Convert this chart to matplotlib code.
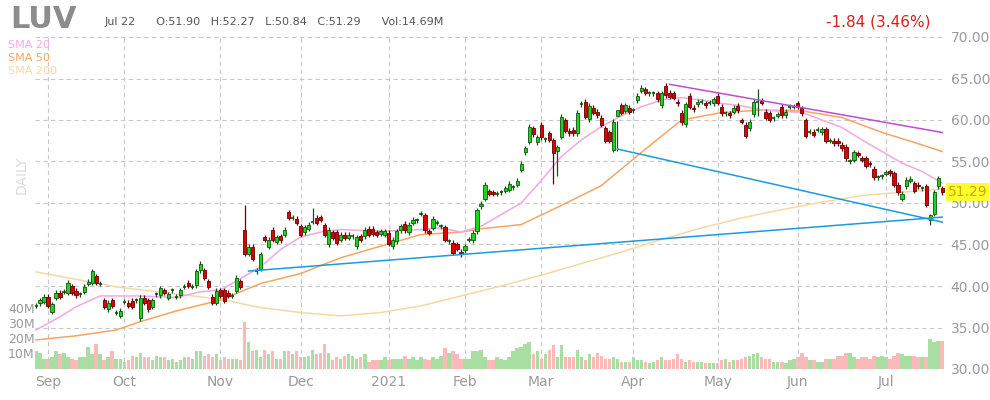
import matplotlib
matplotlib.use("Agg")
import matplotlib.pyplot as plt
import numpy as np

# candle bodies (open, close), Aug 27 2020 .. Jul 22 2021
opens = [
    37.6, 37.9, 38.1, 38.7, 36.9, 38.6, 39.2, 39.3, 39.2, 40.0, 39.4, 39.0, 39.3, 40.3, 40.4, 41.2,
    40.3, 38.3, 37.2, 38.3, 36.8, 36.4, 38.1, 38.0, 38.2, 38.3, 36.1, 38.6, 38.3, 37.5, 39.0,
    38.9, 39.5, 38.6, 39.5, 38.7, 38.9, 39.9, 40.4, 39.9, 40.1, 41.9, 41.9, 40.6, 38.7, 38.0,
    39.5, 39.5, 39.2, 38.8, 39.4, 40.6, 46.8, 43.9, 44.7, 41.8, 42.1, 45.9, 44.7, 46.8, 45.3,
    46.0, 46.2, 48.9, 48.2, 48.1, 47.2, 46.5, 46.9, 47.7, 48.2, 48.3, 47.3, 45.0, 46.5, 46.5,
    45.6, 46.2, 45.8, 46.0, 44.8, 46.0, 46.0, 46.9, 46.9, 46.5, 46.3,
    46.2, 46.4, 44.8, 45.4, 46.7, 47.5, 46.5, 47.6, 47.9, 48.7, 48.5, 46.6, 47.0, 47.6, 47.2,
    47.1, 45.4, 45.2, 45.0, 44.1, 44.3, 45.6, 45.5, 46.6, 49.6, 50.5, 51.4, 51.3, 51.1, 51.3,
    51.5, 51.6, 51.9, 52.2, 54.0, 56.1, 57.4, 59.0, 57.3, 59.4, 57.7, 58.4, 57.6, 56.3, 58.0,
    60.0, 58.7, 58.8, 58.4, 61.9, 62.2, 60.1, 61.5, 61.0, 60.3, 59.0, 58.5, 56.4, 60.5, 61.8,
    61.1, 61.5, 61.2, 62.4, 63.5, 63.7, 63.2, 63.2, 63.2, 61.8, 64.1, 63.3, 63.2, 62.2, 60.9,
    59.5, 62.9, 61.5, 61.9, 62.2,
    62.0, 62.1, 62.0, 62.9, 61.6, 60.8, 60.8, 61.0, 61.7, 60.0, 59.4, 59.0, 60.7, 62.2, 62.3,
    61.0, 60.8, 60.2, 60.5, 61.6, 60.6, 61.6, 61.6, 62.0, 61.4, 60.0, 58.6, 58.6, 58.8, 58.5,
    58.9, 57.5, 57.5, 57.5, 57.0, 56.8, 55.0, 55.2, 56.0, 55.4, 55.4, 54.7, 54.1, 53.1, 53.2,
    53.5, 53.8, 53.6, 52.2, 50.5, 52.0, 52.7, 52.4, 52.2, 51.8, 52.0, 48.0, 48.7, 52.0, 51.8,
]
closes = [
    37.6, 38.3, 38.7, 37.6, 37.8, 39.2, 38.7, 39.3, 40.4, 39.2, 38.9, 39.0, 39.9, 40.5, 41.8, 40.4,
    40.3, 37.5, 38.0, 37.6, 36.8, 37.0, 38.1, 37.6, 37.5, 38.3, 38.6, 38.0, 37.2, 38.3, 39.0,
    39.7, 39.2, 39.0, 39.5, 38.7, 39.5, 39.9, 40.0, 39.9, 41.8, 42.7, 41.0, 39.9, 38.0, 39.4,
    38.8, 38.2, 38.8, 38.8, 41.0, 39.9, 43.9, 44.7, 43.3, 41.8, 43.8, 45.6, 45.6, 45.6, 45.9,
    45.5, 46.8, 48.2, 48.2, 47.6, 46.2, 47.1, 47.4, 47.7, 47.6, 48.0, 46.2, 46.8, 45.8, 45.2,
    46.2, 45.8, 46.2, 46.0, 45.9, 45.6, 46.8, 46.2, 46.3, 46.2, 46.6,
    46.6, 45.1, 45.6, 46.6, 47.2, 46.7, 47.4, 48.0, 47.9, 48.7, 46.7, 46.4, 48.1, 47.6, 47.2,
    45.6, 45.4, 44.0, 44.5, 43.8, 44.8, 45.6, 46.4, 49.1, 49.9, 52.2, 51.1, 51.1, 51.1, 51.3,
    51.8, 52.3, 51.9, 52.7, 54.7, 56.6, 59.2, 58.3, 57.9, 57.9, 57.7, 57.6, 56.0, 56.8, 60.4,
    58.7, 58.4, 58.4, 60.9, 62.0, 60.4, 61.7, 60.9, 60.6, 59.4, 57.5, 57.5, 59.8, 61.2, 60.9,
    61.8, 61.0, 61.2, 62.9, 63.9, 63.3, 63.2, 63.2, 62.5, 63.2, 63.0, 62.8, 62.7, 62.0, 59.7,
    61.9, 61.6, 61.3, 62.2, 62.2,
    61.8, 62.1, 62.5, 62.1, 60.8, 60.8, 60.6, 61.5, 61.2, 59.8, 58.1, 59.8, 62.2, 62.2, 62.1,
    60.3, 60.0, 60.2, 60.7, 60.6, 61.0, 61.6, 61.6, 61.6, 60.8, 58.1, 58.6, 58.2, 58.8, 58.9,
    57.5, 57.5, 57.2, 57.2, 56.6, 55.4, 55.0, 56.1, 55.8, 55.2, 54.5, 54.6, 53.1, 53.1, 53.2,
    53.7, 53.6, 52.2, 51.3, 51.1, 52.8, 52.9, 51.5, 52.0, 51.8, 49.8, 48.5, 51.3, 53.0, 51.29,
]
# long wicks that stand out (candle index: (high, low))
wicks = {52: (49.7, 43.6), 55: (42.2, 41.5), 69: (49.4, 47.5), 129: (57.8, 52.3),
         130: (57.0, 53.2), 145: (59.9, 56.3), 180: (63.7, 60.5), 223: (48.7, 47.3)}
volumes = [
    12, 11, 7, 7, 8, 12, 10, 11, 8, 7, 6, 8, 8, 15, 10, 17, 10, 6, 8, 12, 7, 7, 5, 6, 9, 8, 11, 8, 8, 6, 9,
    8, 8, 6, 7, 5, 6, 8, 8, 7, 12, 12, 9, 10, 8, 10, 6, 8, 7, 7, 7, 6,
    32, 18, 12, 13, 8, 13, 10, 12, 7, 7, 12, 12, 10, 12, 8, 8, 9, 13, 10, 11, 17, 11, 6, 8, 7, 9, 10,
    9, 7, 8, 10, 5, 6, 6, 6, 8, 6, 7, 7, 7, 9, 7, 8, 6, 8, 7, 6, 8, 7, 9, 14, 11, 12, 10, 7, 7, 7,
    12, 12, 13, 8, 6, 6, 8, 7, 6, 8, 12, 14, 15, 17, 18, 10, 12, 7, 10, 13, 16, 8, 16, 8, 8, 8, 13,
    8, 6, 10, 8, 11, 9, 7, 7, 8, 7, 5, 5, 5, 8, 6, 6, 5, 4, 5, 6, 8, 6, 6, 7, 10, 7, 5, 6, 5, 5, 5,
    4, 4, 4, 4, 6, 7, 5, 6, 6, 7, 8, 9, 10, 11, 8, 7, 7, 5, 5, 5, 4, 6, 7, 8, 11, 8, 6, 6, 5, 5, 7,
    7, 7, 9, 9, 11, 11, 8, 7, 8, 8, 7, 9, 8, 9, 8, 7, 9, 11, 10, 9, 9, 9, 8, 8, 8, 20, 18, 19, 19,
]

month_idx = [3, 22, 46, 66, 88, 107, 126, 149, 170, 190, 212]
month_lbl = ["Sep", "Oct", "Nov", "Dec", "2021", "Feb", "Mar", "Apr", "May", "Jun", "Jul"]

sma_idx = [0, 6, 10, 16, 20, 26, 31, 35, 41, 46, 51, 56, 61, 66, 71, 76, 86, 96, 101, 106, 111,
           116, 121, 126, 131, 136, 141, 146, 151, 156, 161, 166, 171, 176, 181, 191, 196, 201,
           206, 211, 216, 221, 226]
sma20 = [34.7, 36.3, 37.5, 38.8, 38.8, 38.8, 38.7, 38.6, 39.3, 39.5, 40.9, 42.3, 44.4, 45.9, 46.5,
         46.8, 46.6, 46.8, 47.0, 46.5, 47.2, 48.6, 50.0, 52.7, 55.6, 57.6, 59.2, 60.5, 61.6, 62.4,
         62.7, 62.4, 62.0, 61.7, 61.2, 60.9, 60.0, 59.1, 57.6, 56.2, 54.8, 53.8, 52.4]
sma50_idx = [0, 10, 20, 26, 35, 46, 56, 66, 76, 86, 96, 106, 111, 121, 131, 141, 151, 161, 171,
             181, 191, 201, 211, 221, 226]
sma50 = [33.5, 34.0, 34.7, 35.7, 37.0, 38.3, 40.3, 41.5, 43.4, 44.8, 46.2, 46.5, 46.9, 47.4, 49.7,
         52.1, 56.1, 60.0, 60.9, 61.2, 61.1, 60.3, 58.5, 57.0, 56.2]
sma200_idx = [0, 20, 46, 56, 66, 76, 86, 96, 106, 116, 126, 136, 146, 156, 166, 176, 186, 196,
              206, 216, 226]
sma200 = [41.7, 39.9, 38.4, 37.4, 36.8, 36.4, 36.8, 37.6, 38.8, 40.0, 41.3, 42.7, 44.1, 45.6, 47.0,
          48.2, 49.2, 50.1, 50.9, 51.3, 51.7]

support = ([53, 226], [41.8, 48.3])
lower_trend = ([145, 226], [56.5, 47.7])
upper_trend = ([158, 226], [64.3, 58.5])

GREEN, RED = "#18d818", "#e00000"
GRID = "#c8c8c8"
GRAY = "#9a9a9a"

fig = plt.figure(figsize=(9.9, 4.0), dpi=100)
ax = fig.add_axes([35 / 990, 31 / 400, 910 / 990, 332 / 400])
vax = ax.twinx()
vax.set_position(ax.get_position())
ax.set_zorder(2)
ax.patch.set_visible(False)

n = len(closes)
x = np.arange(n)
up = np.array(closes) >= np.array(opens)

vax.bar(x, volumes, width=0.85, color=np.where(up, "#a9dea3", "#fbb9b9"), zorder=1)
vax.set_ylim(0, 224)
vax.set_yticks([10, 20, 30, 40])
vax.set_yticklabels([])
vax.tick_params(length=0)
for v in [10, 20, 30, 40]:
    fig.text(8 / 990, 1 - (369 - v * 1.48) / 400, f"{v}M", fontsize=9, color=GRAY,
             va="center", ha="left")

for i in range(n):
    o, c = opens[i], closes[i]
    hi, lo = max(o, c) + 0.3, min(o, c) - 0.3
    if i in wicks:
        hi, lo = wicks[i]
    col = GREEN if up[i] else RED
    edge = "#145214" if up[i] else "#600000"
    ax.vlines(i, lo, hi, color=edge, lw=0.9, zorder=3)
    h = abs(c - o)
    if h < 0.12:
        ax.hlines(o, i - 0.4, i + 0.4, color=edge, lw=1.2, zorder=4)
    else:
        ax.bar(i, h, bottom=min(o, c), width=0.8, color=col, edgecolor=edge, lw=0.6, zorder=4)

ax.plot(sma200_idx, sma200, color="#f6d9a2", lw=1.1, zorder=2)
ax.plot(sma50_idx, sma50, color="#f8a463", lw=1.1, zorder=2)
ax.plot(sma_idx, sma20, color="#f3a7e6", lw=1.1, zorder=2)
ax.plot(*support, color="#1c9ade", lw=1.1, zorder=5)
ax.plot(*lower_trend, color="#1c9ade", lw=1.1, zorder=5)
ax.plot(*upper_trend, color="#c04ccf", lw=1.1, zorder=5)

ax.set_xlim(-0.25, 226.7)
ax.set_ylim(30, 70)
ax.set_yticks(range(30, 71, 5))
ax.yaxis.tick_right()
ax.set_yticklabels([f"{v:.2f}" for v in range(30, 71, 5)], fontsize=10, color=GRAY)
ax.set_xticks(month_idx)
ax.set_xticklabels(month_lbl, fontsize=10, color=GRAY)
ax.tick_params(length=0, pad=4)
ax.grid(True, color=GRID, ls=(0, (4, 3)), lw=0.8)
for a in (ax, vax):
    for s in a.spines.values():
        s.set_visible(False)

ax.text(1.003, (closes[-1] - 30) / 40, f"{closes[-1]:.2f}", transform=ax.transAxes,
        fontsize=10, color="#c9a800", va="center", ha="left",
        bbox=dict(boxstyle="square,pad=0.15", fc="#ffff30", ec="none"))

fig.text(10 / 990, 1 - 19 / 400, "LUV", fontsize=22, fontweight="bold", color="#8c8c8c", va="center")
fig.text(105 / 990, 1 - 22 / 400, "Jul 22      O:51.90   H:52.27   L:50.84   C:51.29      Vol:14.69M",
         fontsize=8, color="#555555", va="center")
fig.text(930 / 990, 1 - 22 / 400, "-1.84 (3.46%)", fontsize=11, color="#d42020", va="center", ha="right")
for k, (lbl, col) in enumerate([("SMA 20", "#f3a7e6"), ("SMA 50", "#f8a463"), ("SMA 200", "#f6d9a2")]):
    fig.text(8 / 990, 1 - (45 + 13 * k) / 400, lbl, fontsize=8, color=col, va="center")
fig.text(22 / 990, 1 - 175 / 400, "DAILY", fontsize=10, color="#dcdcdc", rotation=90,
         va="center", ha="center")

fig.savefig("out.png", dpi=100)
